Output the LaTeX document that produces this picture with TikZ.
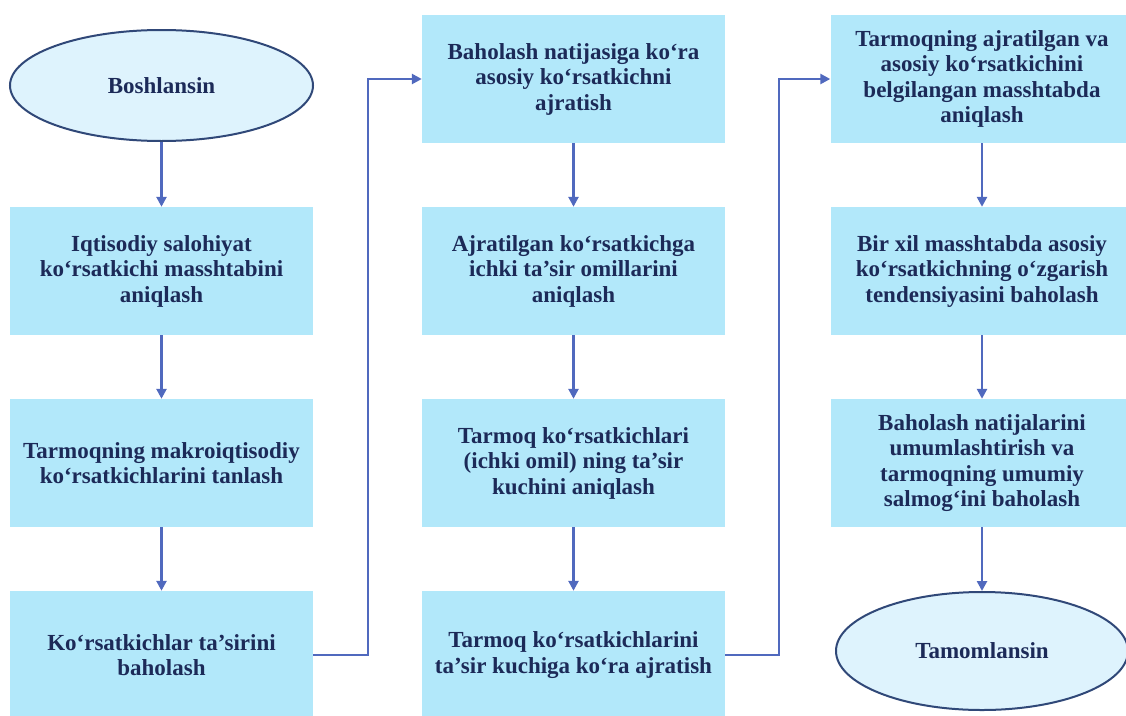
\documentclass[tikz,border=0pt]{standalone}
\usepackage{fontspec}
\setmainfont{Liberation Serif}
\usetikzlibrary{arrows.meta,shapes.geometric}
\definecolor{boxfill}{RGB}{178,232,250}
\definecolor{ellfill}{RGB}{222,243,253}
\definecolor{ellline}{RGB}{48,72,120}
\definecolor{connc}{RGB}{80,105,190}
\definecolor{txt}{RGB}{28,42,88}
\begin{document}
\begin{tikzpicture}[x=1pt,y=-1pt,
  stepbox/.style={rectangle, fill=boxfill, draw=none, minimum width=303pt,
    minimum height=128pt, align=center, text=txt, inner sep=0pt,
    font=\bfseries\fontsize{23}{25.5}\selectfont},
  termnode/.style={ellipse, fill=ellfill, draw=ellline, line width=2pt,
    minimum width=303pt, minimum height=111pt, inner sep=0pt, text=txt,
    font=\bfseries\fontsize{23}{25.5}\selectfont},
  conn/.style={draw=connc, line width=2.5pt, -{Triangle[length=10pt,width=10pt]}},
  connplain/.style={draw=connc, line width=2.5pt}]
\useasboundingbox (0,0) rectangle (1126,715);
\clip (0,0) rectangle (1126,715);
% column 1
\node[termnode] (s) at (161.5,85.5) {Boshlansin};
\node[stepbox] (a1) at (161.5,271) {Iqtisodiy salohiyat\\ko‘rsatkichi masshtabini\\aniqlash};
\node[stepbox] (a2) at (161.5,463) {Tarmoqning makroiqtisodiy\\ko‘rsatkichlarini tanlash};
\node[stepbox] (a3) at (161.5,655) {Ko‘rsatkichlar ta’sirini\\baholash};
% column 2
\node[stepbox] (b1) at (573.5,79) {Baholash natijasiga ko‘ra\\asosiy ko‘rsatkichni\\ajratish};
\node[stepbox] (b2) at (573.5,271) {Ajratilgan ko‘rsatkichga\\ichki ta’sir omillarini\\aniqlash};
\node[stepbox] (b3) at (573.5,463) {Tarmoq ko‘rsatkichlari\\(ichki omil) ning ta’sir\\kuchini aniqlash};
\node[stepbox] (b4) at (573.5,655) {Tarmoq ko‘rsatkichlarini\\ta’sir kuchiga ko‘ra ajratish};
% column 3
\node[stepbox] (c1) at (982,79) {Tarmoqning ajratilgan va\\asosiy ko‘rsatkichini\\belgilangan masshtabda\\aniqlash};
\node[stepbox] (c2) at (982,271) {Bir xil masshtabda asosiy\\ko‘rsatkichning o‘zgarish\\tendensiyasini baholash};
\node[stepbox] (c3) at (982,463) {Baholash natijalarini\\umumlashtirish va\\tarmoqning umumiy\\salmog‘ini baholash};
\node[termnode, minimum width=292pt, minimum height=118pt] (e) at (982,651) {Tamomlansin};
% turning points
\coordinate (j1) at (368,0);
\coordinate (j2) at (779,0);
% connectors
\draw[conn] (s) -- (a1);
\draw[conn] (a1) -- (a2);
\draw[conn] (a2) -- (a3);
\draw[conn] (a3.east) -- (a3.east -| j1) |- (b1.west);
\draw[conn] (b1) -- (b2);
\draw[conn] (b2) -- (b3);
\draw[conn] (b3) -- (b4);
\draw[conn] (b4.east) -- (b4.east -| j2) |- (c1.west);
\draw[conn] (c1) -- (c2);
\draw[conn] (c2) -- (c3);
\draw[conn] (c3) -- (e);
\end{tikzpicture}
\end{document}
